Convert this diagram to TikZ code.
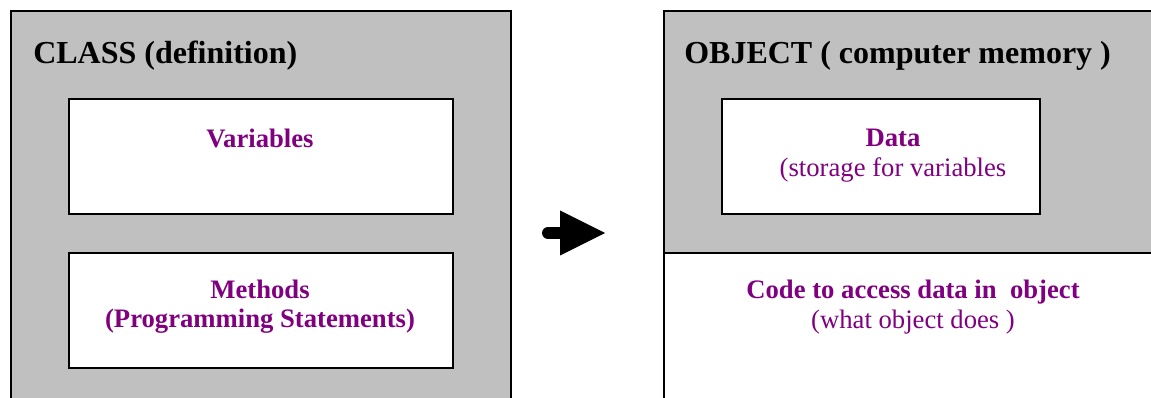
\documentclass[tikz,border=0pt]{standalone}
\usepackage{fontspec}
\setmainfont{Liberation Serif}
\usetikzlibrary{arrows.meta}
\definecolor{memgrey}{HTML}{C0C0C0}
\definecolor{txtpurple}{HTML}{800080}

\begin{document}
\begin{tikzpicture}[
  x=0.75pt, y=-0.75pt,
  outer/.style={rectangle, draw, line width=1.2pt, anchor=north west, inner sep=0pt},
  inbox/.style={rectangle, draw, fill=white, line width=1.2pt, anchor=north west,
                inner sep=0pt, minimum height=86.25pt},
  title/.style={anchor=base west, inner sep=0pt, font=\fontsize{24}{28}\selectfont\bfseries},
  head/.style={anchor=base, inner sep=0pt, text=txtpurple,
               font=\fontsize{20}{24}\selectfont\bfseries},
  note/.style={anchor=base, inner sep=0pt, text=txtpurple,
               font=\fontsize{20}{24}\selectfont},
  pointer/.style={line width=9pt, line cap=round,
                  -{Triangle[length=33.75pt, width=33.75pt, line width=0pt]}}
]
  \clip (0,0) rectangle (1151,398);

  % class side
  \node[outer, fill=memgrey, minimum width=375pt, minimum height=307.5pt]
    (cls) at (10,10) {};
  \node[title] (clsT) at (33,64) {CLASS (definition)};
  \node[inbox, minimum width=288pt] (vars) at (68,98) {};
  \node[head] (varsT) at (260,148) {Variables};
  \node[inbox, minimum width=288pt] (meth) at (68,252) {};
  \node[head] (methT) at (260,299) {Methods};
  \node[head] (methS) at (260,328) {(Programming Statements)};

  % object side
  \node[outer, fill=memgrey, minimum width=384pt, minimum height=181.5pt]
    (obj) at (663,10) {};
  \node[outer, fill=white, minimum width=384pt, minimum height=126pt]
    (code) at (663,252) {};
  \node[title] (objT) at (684,64) {OBJECT ( computer memory )};
  \node[inbox, minimum width=238.5pt] (data) at (721,98) {};
  \node[head] (dataT) at (893,147) {Data};
  \node[note] (dataS) at (893,177) {(storage for variables};
  \node[head] (codeT) at (913,299) {Code to access data in\ \ object};
  \node[note] (codeS) at (913,329) {(what object does )};

  \coordinate (arrtail) at (548,233);
  \coordinate (arrtip) at (605,233);
  \draw[pointer] (arrtail) -- (arrtip);
\end{tikzpicture}
\end{document}
